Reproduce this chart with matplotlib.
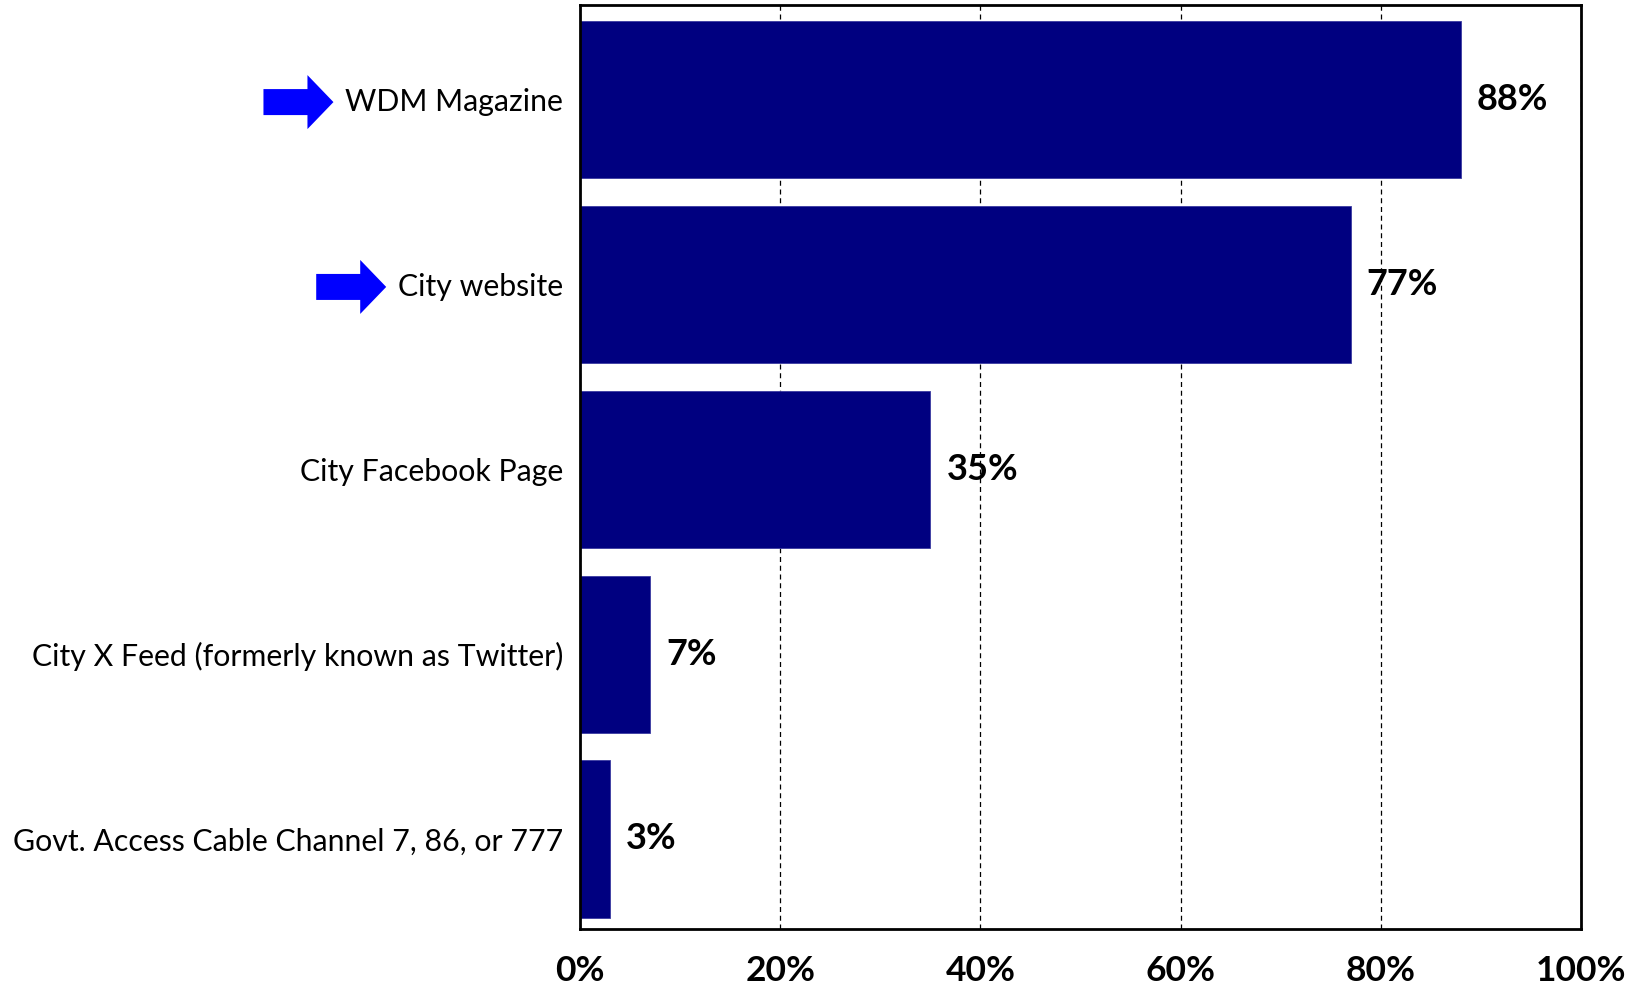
import matplotlib
matplotlib.use("Agg")
import matplotlib.pyplot as plt
from matplotlib.patches import Polygon
from matplotlib import transforms

categories = [
    "WDM Magazine",
    "City website",
    "City Facebook Page",
    "City X Feed (formerly known as Twitter)",
    "Govt. Access Cable Channel 7, 86, or 777",
]
values = [88, 77, 35, 7, 3]
highlighted = ["WDM Magazine", "City website"]
xticks = [0, 20, 40, 60, 80, 100]
xtick_labels = ["0%", "20%", "40%", "60%", "80%", "100%"]

BAR_COLOR = "#000080"
ARROW_COLOR = "#0000FF"

W, H, DPI = 1641, 988, 100
fig = plt.figure(figsize=(W / DPI, H / DPI), dpi=DPI)
ax = fig.add_axes([580 / W, 1 - 929 / H, (1581 - 580) / W, (929 - 5.5) / H])

ypos = list(range(len(categories)))
ax.barh(ypos, values, height=0.85, color=BAR_COLOR, edgecolor="#3a3aa0",
        linewidth=0.6, zorder=2)
ax.set_ylim(len(categories) - 0.513, -0.509)
ax.set_xlim(0, 100)

# dashed vertical gridlines behind the bars
ax.set_xticks(xticks)
ax.xaxis.grid(True, linestyle=(0, (4, 3)), color="black", linewidth=0.9, zorder=0)
ax.set_axisbelow(True)

ax.set_xticklabels(xtick_labels, fontfamily="Lato", fontweight="bold", fontsize=25.5)
ax.tick_params(axis="x", length=0, pad=19)
ax.set_yticks(ypos)
ax.set_yticklabels(categories, fontfamily="Lato", fontsize=21.8)
ax.tick_params(axis="y", length=0, pad=12)

for s in ax.spines.values():
    s.set_linewidth(2.0)
    s.set_color("black")

# value labels next to each bar
for y, v in zip(ypos, values):
    ax.annotate(f"{v}%", xy=(v, y), xytext=(16, 0), textcoords="offset pixels",
                va="center", ha="left", fontfamily="Lato", fontweight="bold",
                fontsize=26, zorder=3)

# block arrows pointing at the highlighted categories
fig.canvas.draw()
renderer = fig.canvas.get_renderer()
ylabels = ax.get_yticklabels()
shape = [(-70, -13), (-26, -13), (-26, -27), (0, 0), (-26, 27), (-26, 13), (-70, 13)]
for lbl in ylabels:
    if lbl.get_text() in highlighted:
        bb = lbl.get_window_extent(renderer)
        x_tip = bb.x0 - 12
        y_mid = (bb.y0 + bb.y1) / 2
        pts = [(x_tip + dx, y_mid + dy) for dx, dy in shape]
        poly = Polygon(pts, closed=True, facecolor=ARROW_COLOR, edgecolor="none",
                       transform=transforms.IdentityTransform())
        fig.patches.append(poly)

fig.savefig("out.png", dpi=DPI, facecolor="white")
